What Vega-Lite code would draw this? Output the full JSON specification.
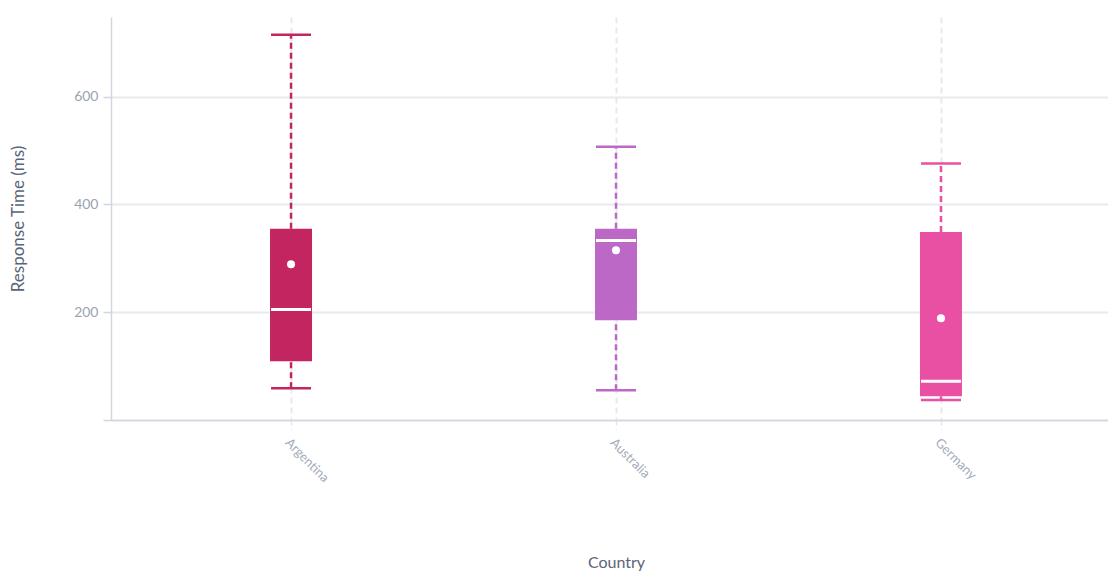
{
  "$schema": "https://vega.github.io/schema/vega-lite/v6.json",
  "autosize": {"type": "none"},
  "width": 1010,
  "height": 403,
  "padding": {"left": 111, "top": 17, "right": 0, "bottom": 151},
  "background": "white",
  "config": {
    "view": {"stroke": null},
    "font": "Lato",
    "axis": {"labelFont": "Lato", "titleFont": "Lato", "titleFontWeight": "normal"}
  },
  "data": {
    "values": [
      {"country": "Argentina", "min": 59, "q1": 109, "median": 205, "q3": 355, "max": 715, "mean": 289},
      {"country": "Australia", "min": 55, "q1": 185, "median": 333, "q3": 355, "max": 507, "mean": 315},
      {"country": "Germany", "min": 37, "q1": 44, "median": 72, "q3": 349, "max": 476, "mean": 189}
    ]
  },
  "encoding": {
    "x": {
      "field": "country",
      "type": "nominal",
      "sort": null,
      "title": "Country",
      "scale": {"type": "point", "padding": 0.554},
      "axis": {
        "labelAngle": 45,
        "labelColor": "#a3abb9",
        "labelFontSize": 13,
        "labelPadding": 6,
        "tickColor": "#e3e5ea",
        "tickDash": [5, 4],
        "tickWidth": 1.5,
        "tickSize": 10,
        "domainColor": "#d3d6de",
        "domainWidth": 1.5,
        "grid": true,
        "gridColor": "#e8e9ee",
        "gridDash": [6, 4],
        "gridWidth": 2,
        "titleColor": "#5a6478",
        "titleFontSize": 16,
        "titlePadding": 70,
        "titleX": 505
      }
    },
    "color": {
      "field": "country",
      "type": "nominal",
      "legend": null,
      "scale": {"domain": ["Argentina", "Australia", "Germany"], "range": ["#c2255f", "#bc68c6", "#e94fa3"]}
    }
  },
  "layer": [
    {
      "mark": {"type": "rule", "strokeDash": [6, 4], "strokeWidth": 2.5},
      "encoding": {
        "y": {
          "field": "min",
          "type": "quantitative",
          "title": "Response Time (ms)",
          "scale": {"domain": [0, 748], "nice": false, "zero": true},
          "axis": {
            "values": [0, 200, 400, 600],
            "labelExpr": "datum.value == 0 ? '' : datum.label",
            "labelColor": "#9aa3b2",
            "labelFontSize": 14,
            "labelPadding": 5,
            "tickColor": "#d3d6de",
            "tickSize": 8,
            "tickWidth": 1.5,
            "domainColor": "#d3d6de",
            "domainWidth": 1.5,
            "gridColor": "#e8e9ee",
            "gridWidth": 2,
            "titleColor": "#5a6478",
            "titleFontSize": 17,
            "titlePadding": 46
          }
        },
        "y2": {"field": "q1"}
      }
    },
    {
      "mark": {"type": "rule", "strokeDash": [6, 4], "strokeWidth": 2.5},
      "encoding": {
        "y": {"field": "q3", "type": "quantitative"},
        "y2": {"field": "max"}
      }
    },
    {
      "mark": {"type": "tick", "thickness": 2.5, "size": 40, "opacity": 1},
      "encoding": {"y": {"field": "min", "type": "quantitative"}}
    },
    {
      "mark": {"type": "tick", "thickness": 2.5, "size": 40, "opacity": 1},
      "encoding": {"y": {"field": "max", "type": "quantitative"}}
    },
    {
      "mark": {"type": "bar", "size": 42, "strokeWidth": 1, "strokeOpacity": 0.6},
      "encoding": {
        "y": {"field": "q1", "type": "quantitative"},
        "y2": {"field": "q3"}
      }
    },
    {
      "mark": {"type": "tick", "thickness": 3, "size": 40, "opacity": 1},
      "encoding": {"y": {"field": "median", "type": "quantitative"}, "color": {"value": "white"}}
    },
    {
      "mark": {"type": "point", "shape": "circle", "filled": true, "size": 65, "opacity": 1},
      "encoding": {"y": {"field": "mean", "type": "quantitative"}, "color": {"value": "white"}}
    }
  ]
}
